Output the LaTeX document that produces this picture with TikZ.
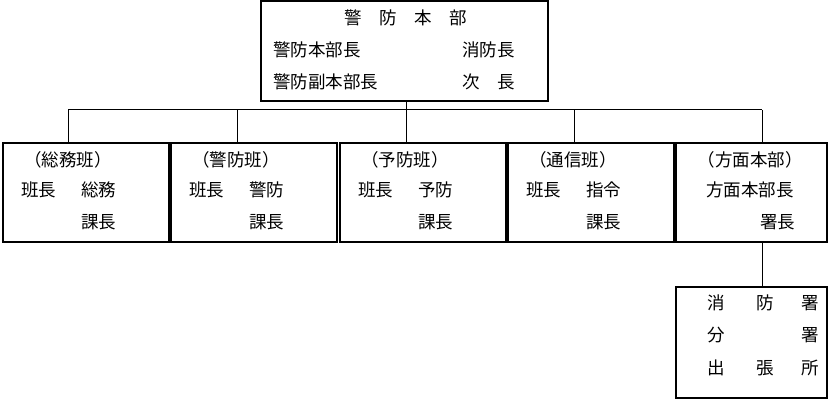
\documentclass[tikz,border=0pt]{standalone}
\usepackage{fontspec}
\newfontfamily\jp{Noto Sans CJK JP}
\begin{document}
\begin{tikzpicture}[x=1pt,y=-1pt,
  box/.style={draw,line width=1.2pt},
  t/.style={font=\jp\fontsize{17.5}{19}\selectfont,inner sep=0pt},
  ln/.style={line width=1pt}]
\useasboundingbox (0,0) rectangle (829,401);
\draw[box] (261,1) rectangle (548,101);
\node[t] (h) at (406,18) {警\quad 防\quad 本\quad 部};
\node[t,anchor=west] at (273,50) {警防本部長};
\node[t,anchor=west] at (462,50) {消防長};
\node[t,anchor=west] at (273,82) {警防副本部長};
\node[t,anchor=west] at (462,82) {次\quad 長};
\coordinate (top) at (406,101);
\coordinate (j) at (406,110);
\draw[ln] (top)--(j);
\draw[ln] (68,110)--(762,110);
\foreach \l/\r/\c/\a/\b/\u in {3/169/68/（総務班）/総務/課長,171/337/237/（警防班）/警防/課長,340/506/406/（予防班）/予防/課長,508/674/574/（通信班）/指令/課長}{
  \draw[box] (\l,143) rectangle (\r,242);
  \draw[ln] (\c,110)--(\c,143);
  \node[t] at (\l+65,160) {\a};
  \node[t,anchor=west] at (\l+18,190) {班長};
  \node[t,anchor=west] at (\l+78,190) {\b};
  \node[t,anchor=west] at (\l+78,222) {\u};
}
\draw[box] (676,143) rectangle (827,242);
\draw[ln] (762,110)--(762,143);
\node[t] at (750,160) {（方面本部）};
\node[t] at (750,190) {方面本部長};
\node[t,anchor=west] at (760,222) {署長};
\draw[ln] (762,242)--(762,287);
\draw[box] (676,287) rectangle (827,398);
\node[t] at (716,303) {消}; \node[t] at (765,303) {防}; \node[t] at (810,303) {署};
\node[t] at (716,335) {分}; \node[t] at (810,335) {署};
\node[t] at (716,368) {出}; \node[t] at (765,368) {張}; \node[t] at (810,368) {所};
\end{tikzpicture}
\end{document}
